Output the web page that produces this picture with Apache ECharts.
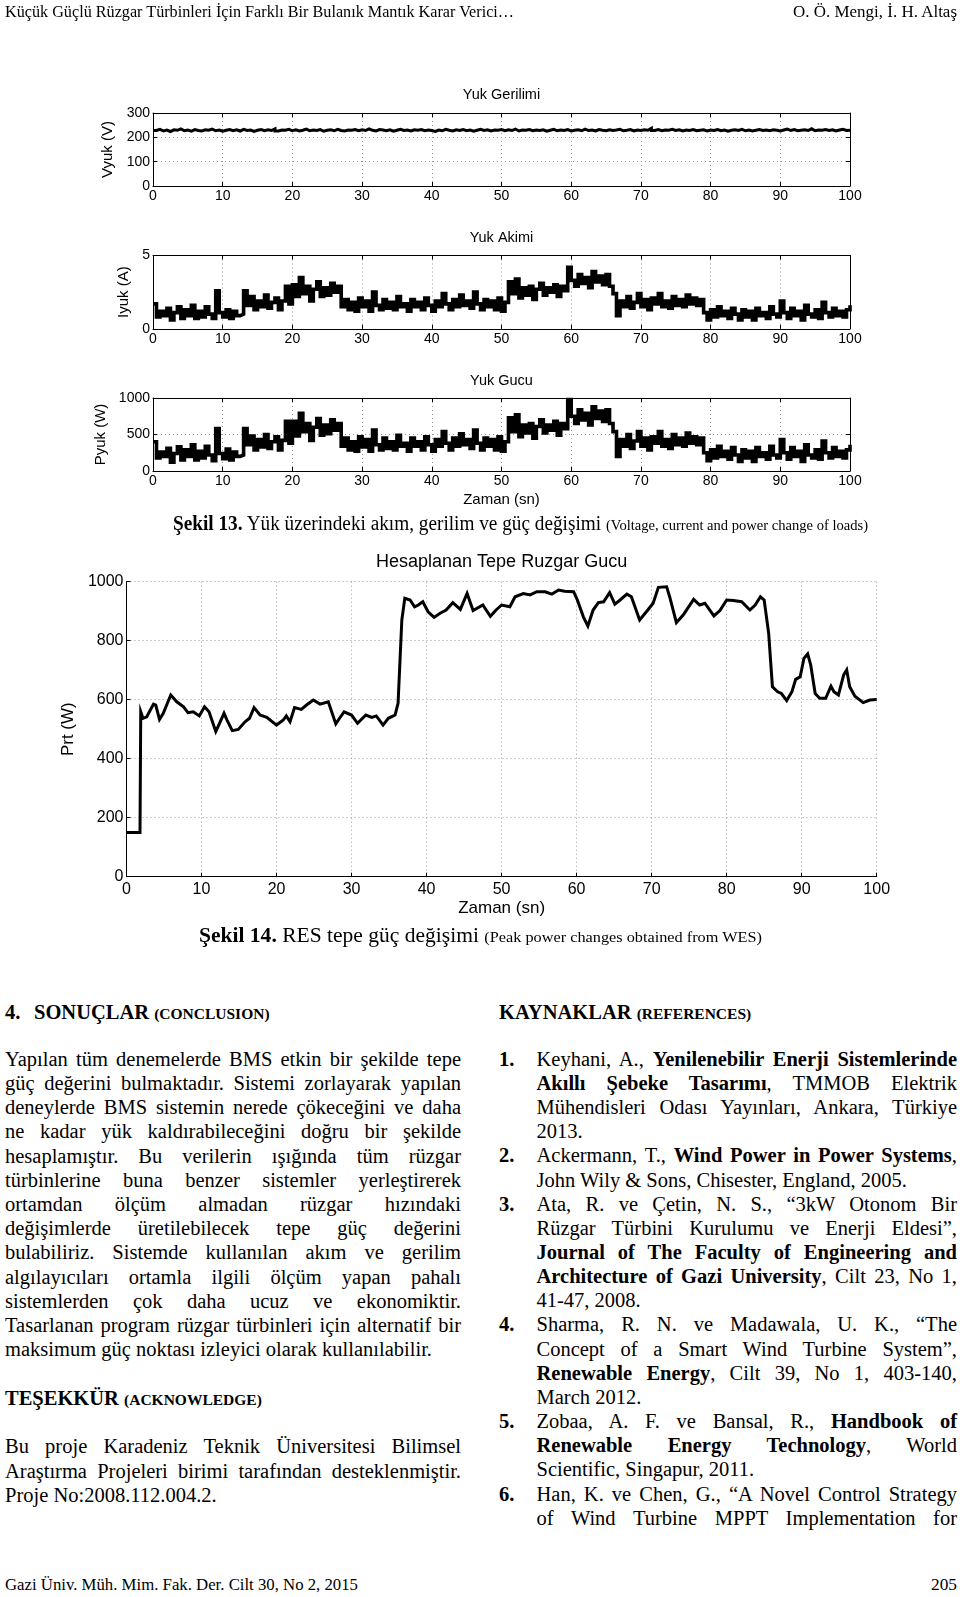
<!DOCTYPE html>
<html><head><meta charset="utf-8">
<script src="https://cdn.jsdelivr.net/npm/echarts/dist/echarts.min.js"></script>
<style>
html,body{margin:0;padding:0;background:#fff}
#page{position:relative;width:960px;height:1597px;overflow:hidden;background:#fff}
#chart{position:absolute;left:0;top:0;width:960px;height:950px}
.t{position:absolute;white-space:nowrap;font-family:'Liberation Serif','Times New Roman',serif;color:#000;line-height:24px;font-size:20.5px;transform-origin:0 50%}
.t b{font-weight:bold}
.sm{font-size:15.5px}
</style>
</head><body><div id="page"><div id="chart"></div></div>
<script>
// ---------- DATA ----------
const SAMPLE_STEP = 0.5; // seconds between samples of the load signals
const loadVoltage = [
228,233,226,230,224,231,229,235,227,230,225,232,228,226,231,229,234,227,230,225,
229,232,227,231,226,233,228,230,224,229,232,227,231,228,235,226,230,229,233,227,
231,226,229,234,227,230,228,232,225,229,231,227,233,228,226,230,229,232,227,231,
228,235,229,226,232,230,227,231,225,229,233,228,230,226,231,229,232,227,230,228,
224,230,227,233,229,226,231,228,232,227,230,225,229,233,228,231,226,230,229,232,
227,231,228,234,226,230,229,232,227,230,228,231,225,229,233,227,230,228,232,226,
229,231,227,234,228,230,226,232,229,227,231,228,230,233,227,229,232,226,230,228,
231,229,237,228,232,227,230,229,233,228,231,226,230,228,232,227,229,231,226,230,
228,232,227,230,225,229,231,228,233,227,230,226,229,232,228,230,227,231,229,226,
230,234,228,232,227,229,231,228,235,227,230,229,232,228,231,226,230,233,228,229,
231];
const loadCurrent = [
1.7,0.8,1.2,0.9,1.4,0.6,1.1,1.5,0.7,1.3,0.9,1.6,0.7,1.2,0.8,1.5,1.0,0.7,2.6,1.1,0.8,1.3,0.7,1.2,0.9,
1.0,2.6,1.6,2.2,1.3,1.9,1.5,2.3,1.4,1.8,2.1,1.3,1.9,2.9,1.7,
3.0,2.2,3.5,2.4,2.9,1.9,2.7,3.2,2.2,2.8,2.3,3.1,2.5,2.9,
1.5,2.0,1.3,1.8,1.2,2.1,1.5,1.9,1.2,2.5,1.6,1.3,2.0,1.4,1.8,1.3,2.2,1.5,1.7,1.2,
2.0,1.5,1.8,1.3,2.1,1.6,1.2,1.9,1.5,2.4,1.7,1.3,2.0,1.5,2.3,1.6,1.9,1.4,2.5,1.7,
1.3,2.0,1.5,1.9,1.3,2.1,1.2,1.8,
3.2,2.4,3.4,2.1,2.8,2.3,2.9,2.0,2.7,3.1,2.3,2.8,2.5,3.0,2.2,2.9,
2.6,4.2,3.3,2.9,3.7,3.1,3.5,2.8,3.9,3.2,3.6,3.0,3.7,2.9,
2.4,0.9,1.9,1.5,2.2,1.4,1.8,2.4,1.5,2.0,1.3,2.1,1.7,2.4,1.5,1.9,1.4,2.2,1.6,2.0,1.5,2.3,1.7,2.1,1.6,2.0,
1.1,0.6,1.3,0.8,1.5,0.9,1.2,0.7,1.4,1.0,0.6,1.3,0.8,1.2,0.6,1.4,0.9,1.1,0.7,1.5,
1.0,0.8,1.9,1.1,0.7,1.4,0.9,1.2,0.6,1.6,1.0,0.8,1.3,0.7,1.8,1.1,0.8,1.4,0.9,1.2,0.8,1.3,1.6];
const loadPower = [
400,180,260,200,310,120,240,330,150,290,200,360,150,270,180,340,220,140,580,240,170,300,150,260,200,
220,580,360,480,290,430,330,500,310,400,470,290,420,680,380,
680,480,790,540,650,420,600,720,490,630,510,700,560,650,
340,450,290,400,270,470,330,430,270,560,360,290,450,310,400,290,490,340,380,270,
450,340,400,290,470,360,270,430,340,540,380,290,450,340,510,360,430,310,560,380,
290,450,340,430,290,470,270,400,
730,540,770,470,630,520,650,450,610,700,520,630,560,680,490,650,
580,980,750,650,840,700,790,630,880,720,820,680,840,650,
540,200,430,340,500,310,410,540,340,450,290,470,380,540,340,430,310,500,360,450,340,520,380,470,360,450,
250,140,290,180,340,200,270,160,320,220,130,290,180,270,130,320,200,250,160,340,
220,180,430,250,160,320,200,270,130,360,220,180,290,160,410,250,180,320,200,270,180,290,360];
const peakTime = [
0,1.8,1.9,2.2,2.7,3.6,3.9,4.4,4.9,5.9,
6.7,7.6,8.2,8.9,9.7,10.4,11.0,11.9,12.4,13.0,
13.4,14.1,14.9,15.8,16.4,17.0,17.8,18.7,20.0,20.9,
21.3,21.8,22.4,23.3,24.0,24.9,25.8,26.9,27.9,28.4,
29.0,30.0,30.8,31.9,32.7,33.3,34.2,34.9,35.8,36.2,
36.7,37.1,37.8,38.4,38.9,39.5,40.2,41.0,41.8,42.6,
43.5,44.5,45.4,46.2,47.5,48.5,49.3,50.0,51.1,51.8,
52.9,53.8,54.7,55.8,56.7,57.6,58.4,59.6,60.1,60.9,
61.5,62.2,62.9,63.6,64.4,65.1,65.8,66.7,67.3,68.4,
69.3,70.2,70.9,72.0,72.4,73.3,74.2,75.6,76.4,77.1,
78.3,79.1,80.0,80.9,82.0,83.1,83.8,84.5,85.0,85.6,
86.1,86.8,87.3,88.0,88.7,89.2,89.8,90.3,90.8,91.2,
91.8,92.4,93.2,93.9,94.3,94.9,95.6,96.0,96.4,97.1,
98.2,99.1,100];
const peakPower = [
150,150,559,537,542,585,582,533,554,616,
593,576,556,559,545,576,559,492,520,554,
531,495,499,525,537,573,548,540,514,531,
545,525,573,567,582,599,585,593,518,537,
559,548,520,548,540,545,514,537,548,588,
870,944,938,915,921,932,898,879,893,904,
929,906,960,902,921,883,905,921,915,949,
960,955,966,966,958,972,968,966,938,881,
850,904,929,932,963,924,938,958,949,870,
898,927,981,983,949,861,887,940,921,927,
884,902,938,936,932,904,921,949,938,825,
644,627,621,597,627,669,678,740,755,718,
621,605,605,646,627,616,684,701,644,612,
590,599,601];

// ---------- CHART ----------
const SANS = "'Liberation Sans', Arial, Helvetica, sans-serif";
const sampled = arr => arr.map((v, i) => [i * SAMPLE_STEP, v]);
const plain = v => String(v);
const panels = [
  {box:[153,113,697,73], yMax:300, yInt:100, yName:'Vyuk (V)', yGap:27, title:'Yuk Gerilimi', titleY:96, data:sampled(loadVoltage), step:'end', lw:3, fs:14, nfs:15, tfs:14.5, frame:true},
  {box:[153,255.5,697,73.3], yMax:5, yInt:5, yName:'Iyuk (A)', yGap:15, title:'Yuk Akimi', titleY:239, data:sampled(loadCurrent), step:'end', lw:3.6, fs:14, nfs:15, tfs:14.5, frame:true},
  {box:[153,398,697,73], yMax:1000, yInt:500, yName:'Pyuk (W)', yGap:40, title:'Yuk Gucu', titleY:382, xName:'Zaman (sn)', xGap:21, data:sampled(loadPower), step:'end', lw:3.6, fs:14, nfs:15, tfs:14.5, frame:true},
  {box:[126.5,581.7,750.2,295], yMax:1000, yInt:200, yName:'Prt (W)', yGap:42, title:'Hesaplanan Tepe Ruzgar Gucu', titleY:563, xName:'Zaman (sn)', xGap:23, data:peakTime.map((t,i)=>[t, peakPower[i]]), step:false, lw:3, fs:16, nfs:17, tfs:18, frame:false}
];
const grids=[], xAxes=[], yAxes=[], series=[], titles=[];
const split = {show:true, lineStyle:{color:'#9a9a9a', width:1, type:[1,3]}};
const blackLine = {show:true, onZero:false, lineStyle:{color:'#000', width:1}};
const tick = {show:true, inside:true, length:4, lineStyle:{color:'#000', width:1}};
panels.forEach((p, i) => {
  grids.push({left:p.box[0], top:p.box[1], width:p.box[2], height:p.box[3]});
  const xi = xAxes.length, yi = yAxes.length;
  xAxes.push({type:'value', gridIndex:i, position:'bottom', min:0, max:100, interval:10,
    axisLine:blackLine, axisTick:tick, splitLine:split,
    axisLabel:{color:'#000', fontSize:p.fs, fontFamily:SANS, margin:p.frame?3:5, formatter:plain},
    name:p.xName||'', nameLocation:'middle', nameGap:p.xGap||0,
    nameTextStyle:{color:'#000', fontSize:p.nfs, fontFamily:SANS}});
  yAxes.push({type:'value', gridIndex:i, position:'left', min:0, max:p.yMax, interval:p.yInt,
    axisLine:blackLine, axisTick:tick, splitLine:split,
    axisLabel:{color:'#000', fontSize:p.fs, fontFamily:SANS, margin:3, formatter:plain},
    name:p.yName, nameLocation:'middle', nameGap:p.yGap,
    nameTextStyle:{color:'#000', fontSize:p.nfs, fontFamily:SANS}});
  if (p.frame) {
    xAxes.push({type:'value', gridIndex:i, position:'top', min:0, max:100, interval:10,
      axisLine:blackLine, axisTick:tick, splitLine:{show:false}, axisLabel:{show:false}});
    yAxes.push({type:'value', gridIndex:i, position:'right', min:0, max:p.yMax, interval:p.yInt,
      axisLine:blackLine, axisTick:tick, splitLine:{show:false}, axisLabel:{show:false}});
  }
  series.push({type:'line', xAxisIndex:xi, yAxisIndex:yi, data:p.data, step:p.step,
    showSymbol:false, symbol:'none', silent:true,
    lineStyle:{color:'#000', width:p.lw, join:'miter', cap:'butt'}});
  titles.push({text:p.title, left:p.box[0]+p.box[2]/2, top:p.titleY - p.tfs/2 - 1, textAlign:'center', padding:0,
    textStyle:{color:'#000', fontSize:p.tfs, fontWeight:'normal', fontFamily:SANS}});
});
const chart = echarts.init(document.getElementById('chart'), null, {renderer:'canvas'});
chart.setOption({animation:false, backgroundColor:'transparent', title:titles, grid:grids, xAxis:xAxes, yAxis:yAxes, series:series});

// ---------- PAGE TEXT ----------
const page = document.getElementById('page');
function put(html, left, centerY, opts={}) {
  const d = document.createElement('div');
  d.className = 't';
  d.innerHTML = html;
  d.style.left = left + 'px';
  d.style.top = (centerY - 12) + 'px';
  if (opts.size) d.style.fontSize = opts.size + 'px';
  if (opts.justify) d.dataset.jw = opts.justify;
  if (opts.fit) d.dataset.fw = opts.fit;
  page.appendChild(d);
  return d;
}
put('Küçük Güçlü Rüzgar Türbinleri İçin Farklı Bir Bulanık Mantık Karar Verici…', 5, 12, {size:16.5, fit:509});
put('O. Ö. Mengi, İ. H. Altaş', 793, 12, {size:16.5, fit:164});
put('Gazi Üniv. Müh. Mim. Fak. Der. Cilt 30, No 2, 2015', 5, 1585, {size:16.5, fit:353});
put('205', 931, 1585, {size:16.5, fit:26});
put('<b>Şekil 13.</b> Yük üzerindeki akım, gerilim ve güç değişimi <span class="sm">(Voltage, current and power change of loads)</span>', 173, 523, {fit:695});
put('<b>Şekil 14.</b> RES tepe güç değişimi <span class="sm">(Peak power changes obtained from WES)</span>', 198.5, 934.5, {fit:563});

put('<b>4.</b>', 5, 1012);
put('<b>SONUÇLAR</b> <b class="sm">(CONCLUSION)</b>', 34, 1012);
put('<b>KAYNAKLAR</b> <b class="sm">(REFERENCES)</b>', 499, 1012);
put('<b>TEŞEKKÜR</b> <b class="sm">(ACKNOWLEDGE)</b>', 5, 1398);

const LINE = 24.2;
const conclusion = [
 'Yapılan tüm denemelerde BMS etkin bir şekilde tepe',
 'güç değerini bulmaktadır. Sistemi zorlayarak yapılan',
 'deneylerde BMS sistemin nerede çökeceğini ve daha',
 'ne kadar yük kaldırabileceğini doğru bir şekilde',
 'hesaplamıştır. Bu verilerin ışığında tüm rüzgar',
 'türbinlerine buna benzer sistemler yerleştirerek',
 'ortamdan ölçüm almadan rüzgar hızındaki',
 'değişimlerde üretilebilecek tepe güç değerini',
 'bulabiliriz. Sistemde kullanılan akım ve gerilim',
 'algılayıcıları ortamla ilgili ölçüm yapan pahalı',
 'sistemlerden çok daha ucuz ve ekonomiktir.',
 'Tasarlanan program rüzgar türbinleri için alternatif bir',
 'maksimum güç noktası izleyici olarak kullanılabilir.'
];
conclusion.forEach((s, k) => put(s, 5, 1058.7 + k*LINE, k < conclusion.length-1 ? {justify:456} : {}));
const ack = [
 'Bu proje Karadeniz Teknik Üniversitesi Bilimsel',
 'Araştırma Projeleri birimi tarafından desteklenmiştir.',
 'Proje No:2008.112.004.2.'
];
ack.forEach((s, k) => put(s, 5, 1445.6 + k*24.9, k < ack.length-1 ? {justify:456} : {}));

const refs = [
 {n:'1.', lines:['Keyhani, A., <b>Yenilenebilir Enerji Sistemlerinde</b>', '<b>Akıllı Şebeke Tasarımı</b>, TMMOB Elektrik', 'Mühendisleri Odası Yayınları, Ankara, Türkiye', '2013.']},
 {n:'2.', lines:['Ackermann, T., <b>Wind Power in Power Systems</b>,', 'John Wily &amp; Sons, Chisester, England, 2005.']},
 {n:'3.', lines:['Ata, R. ve Çetin, N. S., “3kW Otonom Bir', 'Rüzgar Türbini Kurulumu ve Enerji Eldesi”,', '<b>Journal of The Faculty of Engineering and</b>', '<b>Architecture of Gazi University</b>, Cilt 23, No 1,', '41-47, 2008.']},
 {n:'4.', lines:['Sharma, R. N. ve Madawala, U. K., “The', 'Concept of a Smart Wind Turbine System”,', '<b>Renewable Energy</b>, Cilt 39, No 1, 403-140,', 'March 2012.']},
 {n:'5.', lines:['Zobaa, A. F. ve Bansal, R., <b>Handbook of</b>', '<b>Renewable Energy Technology</b>, World', 'Scientific, Singapur, 2011.']},
 {n:'6.', lines:['Han, K. ve Chen, G., “A Novel Control Strategy', 'of Wind Turbine MPPT Implementation for'], cont:true}
];
let row = 0;
refs.forEach(r => {
  put('<b>' + r.n + '</b>', 499, 1058.7 + row*24.16);
  r.lines.forEach((s, k) => {
    const last = k === r.lines.length-1 && !r.cont;
    put(s, 536.5, 1058.7 + row*24.16, last ? {} : {justify:420.5});
    row++;
  });
});

function layoutText() {
  document.querySelectorAll('.t').forEach(el => {
    if (el.dataset.jw) {
      el.style.wordSpacing = '0px';
      const nat = el.getBoundingClientRect().width;
      const n = (el.textContent.match(/ /g) || []).length;
      if (n > 0) el.style.wordSpacing = ((+el.dataset.jw - nat) / n) + 'px';
    }
    if (el.dataset.fw) {
      el.style.transform = 'none';
      const nat = el.getBoundingClientRect().width;
      el.style.transform = 'scaleX(' + (+el.dataset.fw / nat) + ')';
    }
  });
}
layoutText();
if (document.fonts && document.fonts.ready) document.fonts.ready.then(layoutText);
</script>
</body></html>
